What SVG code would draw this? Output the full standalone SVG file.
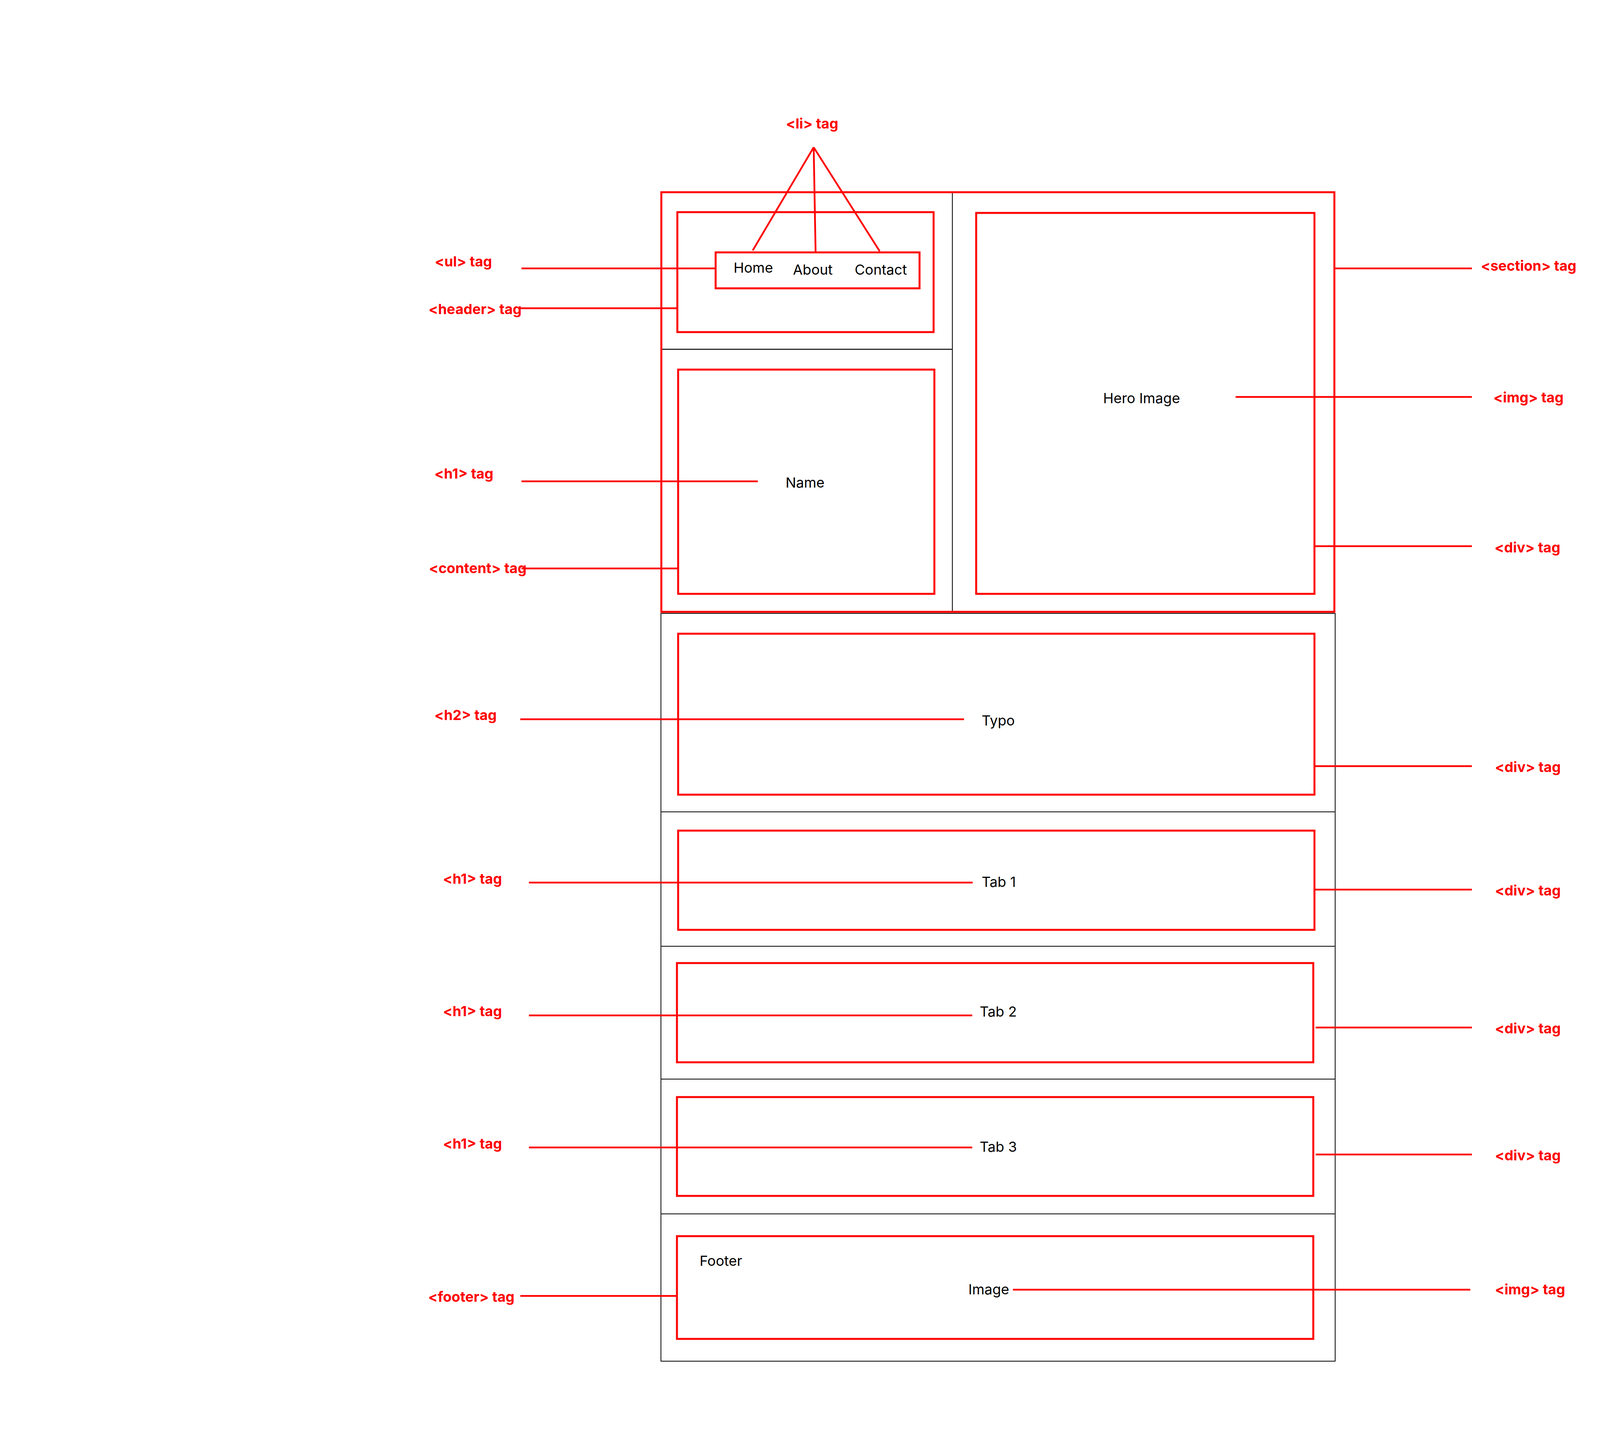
<svg xmlns="http://www.w3.org/2000/svg" width="5129" height="3696" viewBox="0 0 5129 3696">
<style>
.frame{fill:none;stroke:#000;stroke-width:2}
.sep{stroke:#000;stroke-width:2}
.box{fill:none;stroke:#ff0000;stroke-width:5}
.conn{stroke:#ff0000;stroke-width:4.5;fill:none}
.lbl{font-family:Inter,"Noto Sans","Liberation Sans",sans-serif;font-weight:700;font-size:36px;fill:#ff0000}
.txt{font-family:Inter,"Noto Sans","Liberation Sans",sans-serif;font-weight:400;font-size:36px;fill:#000}
</style>
<rect width="5129" height="3696" fill="#fff"/>
<g id="page-frame">
<rect class="frame" x="1692" y="1570" width="1726" height="1914"/>
<line class="sep" x1="2438" y1="492" x2="2438" y2="1566"/>
<line class="sep" x1="1693" y1="894" x2="2438" y2="894" style="stroke-width:2.5"/>
<line class="sep" x1="1692" y1="2078" x2="3418" y2="2078"/>
<line class="sep" x1="1692" y1="2422" x2="3418" y2="2422"/>
<line class="sep" x1="1692" y1="2762" x2="3418" y2="2762"/>
<line class="sep" x1="1692" y1="3107" x2="3418" y2="3107"/>
</g>
<g id="section-node"><rect class="box" x="1693" y="492" width="1723" height="1074"/></g>
<g id="header-node"><rect class="box" x="1734" y="543" width="656" height="307"/></g>
<g id="ul-node"><rect class="box" x="1832" y="646" width="522" height="92"/>
<text class="txt" x="1878" y="698">Home</text>
<text class="txt" x="2030" y="703">About</text>
<text class="txt" x="2188" y="703">Contact</text></g>
<g id="name-node"><rect class="box" x="1736" y="946" width="656" height="574"/>
<text class="txt" x="2011" y="1248">Name</text></g>
<g id="hero-node"><rect class="box" x="2499" y="545" width="866" height="975"/>
<text class="txt" x="2824" y="1032">Hero Image</text></g>
<g id="typo-node"><rect class="box" x="1736" y="1622" width="1629" height="412"/>
<text class="txt" x="2513" y="1857">Typo</text></g>
<g id="tab1-node"><rect class="box" x="1736" y="2126" width="1629" height="254"/>
<text class="txt" x="2513" y="2270">Tab 1</text></g>
<g id="tab2-node"><rect class="box" x="1733" y="2465" width="1629" height="254"/>
<text class="txt" x="2508" y="2602">Tab 2</text></g>
<g id="tab3-node"><rect class="box" x="1733" y="2808" width="1629" height="253"/>
<text class="txt" x="2508" y="2948">Tab 3</text></g>
<g id="footer-node"><rect class="box" x="1733" y="3164" width="1629" height="263"/>
<text class="txt" x="1791" y="3240">Footer</text>
<text class="txt" x="2479" y="3313">Image</text></g>
<g id="labels">
<text class="lbl" x="2012" y="329">&lt;li&gt; tag</text>
<text class="lbl" x="1113" y="682">&lt;ul&gt; tag</text>
<text class="lbl" x="1097" y="804">&lt;header&gt; tag</text>
<text class="lbl" x="1112" y="1225">&lt;h1&gt; tag</text>
<text class="lbl" x="1098" y="1467">&lt;content&gt; tag</text>
<text class="lbl" x="1112" y="1843">&lt;h2&gt; tag</text>
<text class="lbl" x="1134" y="2262">&lt;h1&gt; tag</text>
<text class="lbl" x="1134" y="2601">&lt;h1&gt; tag</text>
<text class="lbl" x="1134" y="2940">&lt;h1&gt; tag</text>
<text class="lbl" x="1096" y="3332">&lt;footer&gt; tag</text>
<text class="lbl" x="3791" y="693">&lt;section&gt; tag</text>
<text class="lbl" x="3823" y="1030">&lt;img&gt; tag</text>
<text class="lbl" x="3826" y="1414">&lt;div&gt; tag</text>
<text class="lbl" x="3827" y="1976">&lt;div&gt; tag</text>
<text class="lbl" x="3827" y="2292">&lt;div&gt; tag</text>
<text class="lbl" x="3827" y="2645">&lt;div&gt; tag</text>
<text class="lbl" x="3827" y="2970">&lt;div&gt; tag</text>
<text class="lbl" x="3827" y="3313">&lt;img&gt; tag</text>
</g>
<g id="connectors">
<line class="conn" x1="2083" y1="377" x2="1927" y2="641"/>
<line class="conn" x1="2083" y1="377" x2="2088" y2="648"/>
<line class="conn" x1="2083" y1="377" x2="2252" y2="643"/>
<line class="conn" x1="1335" y1="687" x2="1832" y2="687"/>
<line class="conn" x1="1332" y1="789" x2="1734" y2="789"/>
<line class="conn" x1="1335" y1="1232" x2="1940" y2="1232"/>
<line class="conn" x1="1335" y1="1455" x2="1734" y2="1455"/>
<line class="conn" x1="3416" y1="687" x2="3768" y2="687"/>
<line class="conn" x1="3163" y1="1016" x2="3768" y2="1016"/>
<line class="conn" x1="3365" y1="1398" x2="3768" y2="1398"/>
<line class="conn" x1="1332" y1="1841" x2="2468" y2="1841"/>
<line class="conn" x1="3365" y1="1961" x2="3768" y2="1961"/>
<line class="conn" x1="1354" y1="2259" x2="2490" y2="2259"/>
<line class="conn" x1="3365" y1="2277" x2="3768" y2="2277"/>
<line class="conn" x1="1354" y1="2599" x2="2489" y2="2599"/>
<line class="conn" x1="3368" y1="2630" x2="3768" y2="2630"/>
<line class="conn" x1="1354" y1="2937" x2="2489" y2="2937"/>
<line class="conn" x1="3368" y1="2955" x2="3768" y2="2955"/>
<line class="conn" x1="1332" y1="3317" x2="1733" y2="3317"/>
<line class="conn" x1="2593" y1="3301" x2="3764" y2="3301"/>
</g>
</svg>
